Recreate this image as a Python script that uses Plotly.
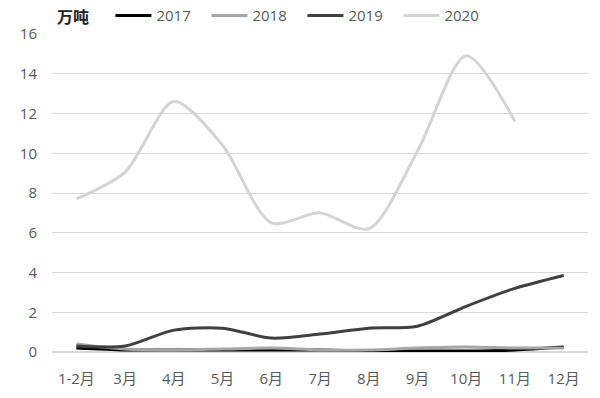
import plotly.graph_objects as go

months = ["1-2月", "3月", "4月", "5月", "6月", "7月", "8月", "9月", "10月", "11月", "12月"]
v2017 = [0.2, 0.1, 0.1, 0.1, 0.1, 0.1, 0.05, 0.05, 0.05, 0.1, 0.25]
v2018 = [0.4, 0.15, 0.1, 0.15, 0.2, 0.1, 0.1, 0.2, 0.25, 0.2, 0.2]
v2019 = [0.3, 0.3, 1.1, 1.2, 0.7, 0.9, 1.2, 1.3, 2.3, 3.2, 3.85]
v2020 = [7.7, 9.05, 12.6, 10.4, 6.5, 7.0, 6.2, 10.1, 14.9, 11.6, None]

series = [("2017", v2017, "#000000"), ("2018", v2018, "#a6a6a6"),
          ("2019", v2019, "#404040"), ("2020", v2020, "#d4d4d4")]

fig = go.Figure()
for name, vals, col in series:
    fig.add_trace(go.Scatter(x=months, y=vals, name=name, mode="lines",
                             line=dict(color=col, width=3, shape="spline", smoothing=0.8),
                             connectgaps=False))

fig.update_layout(
    width=600, height=398,
    margin=dict(l=52, r=12, t=34, b=46, autoexpand=False),
    plot_bgcolor="white", paper_bgcolor="white",
    font=dict(family="Open Sans, Noto Sans CJK SC", size=14, color="#595959"),
    legend=dict(orientation="h", x=0.109, y=1.057, xanchor="left", yanchor="middle",
                font=dict(size=15, color="#595959"), itemwidth=36, entrywidth=45,
                traceorder="normal", bgcolor="rgba(0,0,0,0)"),
    xaxis=dict(showgrid=False, showline=False, ticks="", tickfont=dict(size=15),
               range=[-0.5, 10.5], ticklabelstandoff=16),
    yaxis=dict(range=[0, 16], dtick=2, showgrid=True, gridcolor="#d9d9d9", gridwidth=1,
               zeroline=True, zerolinecolor="#d9d9d9", showline=False, ticks="",
               tickfont=dict(size=15), ticklabelstandoff=14),
    annotations=[dict(text="<b>万吨</b>", x=0.005, y=1.057, xref="paper", yref="paper",
                      xanchor="left", yanchor="middle", showarrow=False,
                      font=dict(size=16, color="#222222", family="Noto Sans CJK SC"))],
)

fig.write_html("out.html", config={"displayModeBar": False},
               post_script="document.body.style.margin='0';")
